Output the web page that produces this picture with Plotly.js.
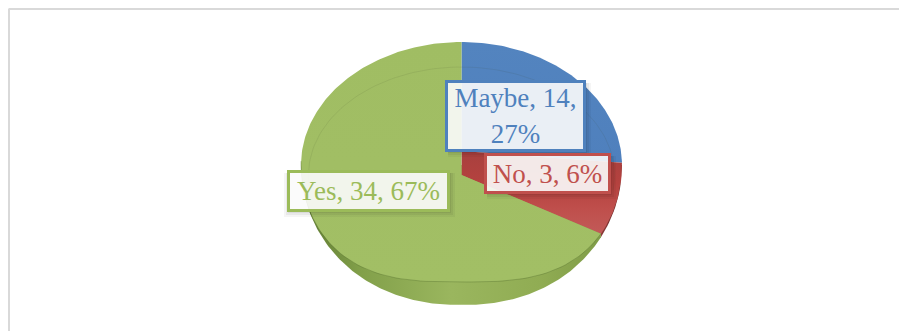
<!DOCTYPE html>
<html>
<head>
<meta charset="utf-8">
<title>Survey responses</title>
<script src="https://cdn.plot.ly/plotly-3.0.1.min.js"></script>
<style>html,body{margin:0;padding:0;background:#fff}#chart{width:899px;height:331px}</style>
</head>
<body>
<div id="chart"></div>
<script>
// Survey answers, in clockwise order from twelve o'clock.
const categories = ['Maybe', 'No', 'Yes'];
const counts = [14, 3, 34];
const textColors = ['#4f81bd', '#c0504d', '#9bbb59'];

// Label boxes, as [left, top, right, bottom] on the pixel-sized axes.
const labelBoxes = [[446, 81, 584, 150], [485, 154, 609, 192], [288, 171, 448, 210]];

const W = 899, H = 331;
const total = counts.reduce((a, b) => a + b, 0);

// Tilted disc: the apex sits below the centre of the visible top face,
// and the Maybe slice is lifted so its tip rests higher than the others.
const cx = 461.5, rx = 160.5, widestY = 165, apexY = 175, liftedApexY = 151;
const upperRy = 123, faceLowerRy = 117, sideLowerRy = 140;
const rad = Math.PI / 180;

// Point on the rim of the top face for a clockwise angle in degrees.
function rim(deg) {
  const t = ((deg % 360) + 360) % 360;
  const fold = t > 180 ? 360 - t : t;
  const sign = t > 180 ? -1 : 1;
  if (fold <= 100) {
    const a = fold * 0.9 * rad;
    return [cx + sign * rx * Math.sin(a), widestY - upperRy * Math.cos(a)];
  }
  const s = 90 * Math.pow((fold - 100) / 80, 0.8) * rad;
  const d = Math.cos(s);
  return [cx + sign * rx * d, widestY + faceLowerRy * Math.sqrt(Math.max(0, 1 - Math.pow(d, 3)))];
}

// Lower silhouette of the disc's side wall at a horizontal offset d in [-1, 1].
function sideY(d) {
  return widestY + sideLowerRy * Math.sqrt(Math.max(0, 1 - Math.pow(Math.abs(d), 2.2)));
}

function range(from, to, step) {
  const out = [];
  for (let v = from; v < to; v += step) out.push(v);
  out.push(to);
  return out;
}

// Cumulative angles of the slices.
const edges = [0];
counts.forEach(c => edges.push(edges[edges.length - 1] + c / total * 360));

function wall(d0, d1, stops) {
  const ds = range(d0, d1, 0.01);
  const xs = ds.map(d => cx + rx * d);
  const ys = ds.map(sideY);
  xs.push(cx + rx * d1, cx + rx * d0);
  ys.push(widestY, widestY);
  return {
    type: 'scatter', mode: 'lines', x: xs, y: ys, fill: 'toself',
    line: {width: 0}, hoverinfo: 'skip', showlegend: false,
    fillgradient: {type: 'horizontal', colorscale: stops}
  };
}

// The side wall splits where the No slice ends on the rim.
const splitD = (rim(edges[2])[0] - cx) / rx;
const traces = [
  wall(-1, splitD, [[0, '#5d7830'], [0.2, '#82a04a'], [0.5, '#9ab65e'], [0.8, '#90ac53'], [1, '#7f9c47']]),
  wall(splitD, 1, [[0, '#8c3a38'], [1, '#5e2422']])
];

// Top face, one filled wedge per category. The No wedge reaches up to the
// lifted tip of the Maybe wedge; the other two meet at the apex.
// The value axis runs downward, so gradients start at the lower edge.
const wedgeFills = [
  [[0, '#4f80bd'], [1, '#5384bf']],
  [[0, '#c25a58'], [0.3, '#bf4f4c'], [0.6, '#b5423f'], [1, '#a8403e']],
  [[0, '#a2bf65'], [1, '#a0bd63']]
];
const wedgeOutlines = [
  [[cx, liftedApexY]],
  [[cx, apexY], [cx, liftedApexY]],
  [[cx, apexY]]
];
categories.forEach((name, i) => {
  const pts = wedgeOutlines[i].concat(range(edges[i], edges[i + 1], 1).map(rim));
  pts.push(pts[0]);
  traces.push({
    type: 'scatter', mode: 'lines', name,
    x: pts.map(p => p[0]), y: pts.map(p => p[1]),
    fill: 'toself', line: {width: 0}, hoverinfo: 'skip', showlegend: false,
    fillgradient: {type: 'vertical', colorscale: wedgeFills[i]}
  });
});

// Faint bevel ring across the far half of the top face.
const ring = range(-98, 98, 2);
traces.push({
  type: 'scatter', mode: 'lines',
  x: ring.map(a => cx + 153 * Math.sin(a * rad)),
  y: ring.map(a => apexY - 108 * Math.cos(a * rad)),
  line: {width: 1, color: 'rgba(60,70,40,0.10)'}, hoverinfo: 'skip', showlegend: false
});

// Darker crease where the face meets the wall.
const crease = range(edges[2], 262, 2).map(rim);
traces.push({
  type: 'scatter', mode: 'lines',
  x: crease.map(p => p[0]), y: crease.map(p => p[1]),
  line: {width: 1, color: 'rgba(85,110,45,0.38)'}, hoverinfo: 'skip', showlegend: false
});

// Soft shadows below each label box, then the outer frame.
const shapes = [];
labelBoxes.forEach(b => {
  [[7, 0.04], [5, 0.05], [3, 0.06]].forEach(([off, alpha]) => {
    shapes.push({
      type: 'rect', xref: 'x', yref: 'y', layer: 'above',
      x0: b[0] + (b[0] < 300 ? -off + 3 : 2), x1: b[2] + off, y0: b[1] + 2, y1: b[3] + off,
      line: {width: 0}, fillcolor: `rgba(0,0,0,${alpha})`
    });
  });
});
[[8.5, 9, W, 9], [9, 9, 9, H]].forEach(([x0, y0, x1, y1]) => {
  shapes.push({type: 'line', xref: 'x', yref: 'y', x0, y0, x1, y1, line: {width: 2, color: '#d9d9d9'}});
});

// Each label states its category, count and rounded share.
const labelTexts = categories.map((name, i) => {
  const pct = Math.round(counts[i] / total * 100) + '%';
  return name === 'Maybe' ? `${name}, ${counts[i]},<br>${pct}` : `${name}, ${counts[i]}, ${pct}`;
});
const annotations = categories.map((name, i) => {
  const b = labelBoxes[i];
  return {
    xref: 'x', yref: 'y', x: (b[0] + b[2]) / 2, y: (b[1] + b[3]) / 2,
    xanchor: 'center', yanchor: 'middle', text: labelTexts[i], showarrow: false,
    width: b[2] - b[0] - 3, height: b[3] - b[1] - 3, borderpad: 0,
    align: 'center', valign: 'middle',
    font: {family: '"Liberation Serif", serif', size: 27, color: textColors[i]},
    bgcolor: 'rgba(255,255,255,0.89)', bordercolor: textColors[i], borderwidth: 3
  };
});

const hidden = {visible: false, fixedrange: true};
Plotly.newPlot('chart', traces, {
  width: W, height: H,
  margin: {l: 0, r: 0, t: 0, b: 0},
  paper_bgcolor: '#fff', plot_bgcolor: '#fff',
  xaxis: Object.assign({range: [0, W]}, hidden),
  yaxis: Object.assign({range: [H, 0]}, hidden),
  shapes, annotations, showlegend: false
}, {staticPlot: true, displayModeBar: false});
</script>
</body>
</html>
